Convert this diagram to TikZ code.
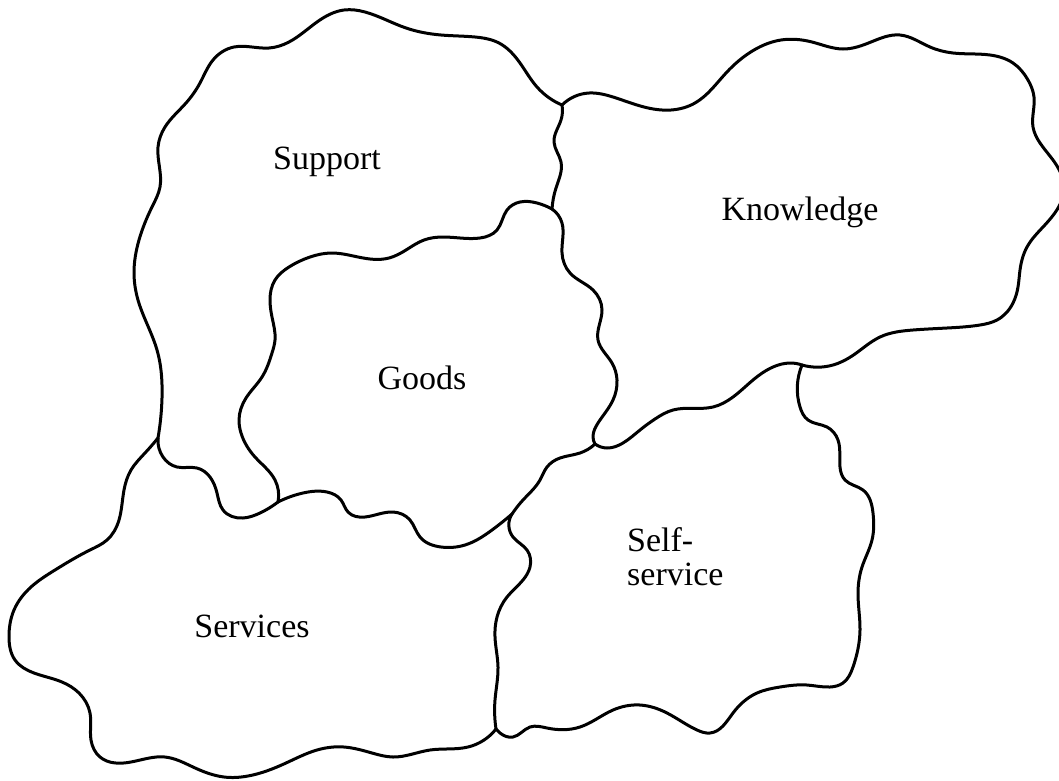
\documentclass[tikz,border=0pt]{standalone}
\usepackage{fontspec}
\setmainfont{Liberation Serif}
\usepackage{tikz}
\usetikzlibrary{hobby}
\tikzset{
  border/.style={use Hobby shortcut, line width=3pt, line join=round, line cap=round},
  region/.style={font=\fontsize{34}{34}\selectfont, inner sep=0pt}
}

\begin{document}
\begin{tikzpicture}[x=1pt,y=-1pt]
    \useasboundingbox (0,0) rectangle (1059,780);
    % junctions of the regions
    \coordinate (J1) at (562,105);
    \coordinate (J2) at (552,209);
    \coordinate (J3) at (595,444);
    \coordinate (J4) at (802,365);
    \coordinate (J5) at (512,514);
    \coordinate (J6) at (496,729);
    \coordinate (J7) at (158,438);
    \coordinate (J8) at (278,502);
    \begin{scope}
        % outer edge of Support
        \draw[border] (J7) .. (162,398) .. (157,350) .. (138,300) .. (134,273) .. (139,240)
            .. (152,207) .. (160,187) .. (158,147) .. (165,127) .. (186,103) .. (200,83)
            .. (213,60) .. (234,47) .. (269,48) .. (289,42) .. (317,22) .. (344,10)
            .. (365,12) .. (406,28) .. (441,35) .. (475,37) .. (499,43) .. (520,63)
            .. (537,87) .. (J1);
        \draw[border] (J1) .. (561,120) .. (554,142) .. (561,162) .. (556,188) .. (J2);
        % outer edge of Knowledge
        \draw[border] (J1) .. (589,93) .. (613,97) .. (644,107) .. (671,110) .. (695,103)
            .. (726,73) .. (754,50) .. (781,40) .. (812,42) .. (843,49) .. (871,42)
            .. (900,35) .. (930,47) .. (953,53) .. (990,55) .. (1013,63) .. (1028,80)
            .. (1034,97) .. (1033,127) .. (1040,143) .. (1053,160) .. (1064,188)
            .. (1043,227) .. (1027,247) .. (1020,270) .. (1018,287) .. (1013,303)
            .. (997,320) .. (980,325) .. (947,328) .. (913,330) .. (880,337)
            .. (852,356) .. (833,365) .. (J4);
        \draw[border] (J2) .. (562,223) .. (562,253) .. (570,273) .. (593,290) .. (602,310)
            .. (598,340) .. (612,363) .. (617,380) .. (613,400) .. (598,423) .. (593,437)
            .. (J3);
        \draw[border] (J3) .. (607,448) .. (623,443) .. (640,430) .. (655,419) .. (673,410)
            .. (713,407) .. (733,397) .. (753,380) .. (773,367) .. (790,363) .. (J4);
        \draw[border] (J3) .. (580,453) .. (560,458) .. (547,467) .. (540,480) .. (523,500)
            .. (J5);
        % outer edge of Self-service
        \draw[border] (J4) .. (800,407) .. (808,420) .. (827,427) .. (838,440) .. (840,467)
            .. (845,480) .. (863,490) .. (873,513) .. (872,540) .. (862,567) .. (858,593)
            .. (860,630) .. (853,667) .. (843,683) .. (830,687) .. (807,685) .. (780,687)
            .. (757,693) .. (733,713) .. (710,733) .. (697,730) .. (667,713) .. (640,705)
            .. (613,710) .. (580,727) .. (547,728) .. (530,727) .. (513,737) .. (500,733)
            .. (J6);
        \draw[border] (J6) .. (495,700) .. (498,667) .. (495,637) .. (497,617) .. (507,597)
            .. (523,580) .. (530,567) .. (527,550) .. (513,537) .. (J5);
        \draw[border] (J8) .. (303,493) .. (327,492) .. (341,500) .. (348,512) .. (365,517)
            .. (393,512) .. (410,520) .. (420,537) .. (441,547) .. (465,545) .. (492,530)
            .. (J5);
        \draw[border] (J7) .. (163,457) .. (177,467) .. (197,468) .. (210,477) .. (217,493)
            .. (223,510) .. (243,518) .. (260,513) .. (J8);
        \draw[border] (J8) .. (275,480) .. (255,457) .. (241,433) .. (239,420) .. (246,398)
            .. (262,377) .. (272,353) .. (275,340) .. (272,317) .. (270,300) .. (275,280)
            .. (289,267) .. (310,257) .. (331,253) .. (358,257) .. (389,258) .. (406,250)
            .. (424,240) .. (444,237) .. (480,238) .. (497,230) .. (507,210) .. (520,202)
            .. (537,203) .. (J2);
        % outer edge of Services
        \draw[border] (J7) .. (145,453) .. (131,470) .. (124,490) .. (119,520) .. (107,540)
            .. (90,550) .. (55,570) .. (31,587) .. (14,610) .. (9,637) .. (15,660)
            .. (34,673) .. (62,682) .. (79,693) .. (90,713) .. (91,740) .. (100,757)
            .. (131,762) .. (165,757) .. (193,767) .. (224,777) .. (248,776) .. (286,763)
            .. (317,750) .. (344,747) .. (372,753) .. (393,757) .. (430,750) .. (468,747)
            .. (J6);
    \end{scope}
    \node[region] (support) at (327,162) {Support};
    \node[region] (knowledge) at (800,212) {Knowledge};
    \node[region] (goods) at (422,378) {Goods};
    \node[region] (services) at (252,626) {Services};
    \node[region, align=left, anchor=north west] (selfservice) at (627,527) {Self-\\service};
\end{tikzpicture}
\end{document}
